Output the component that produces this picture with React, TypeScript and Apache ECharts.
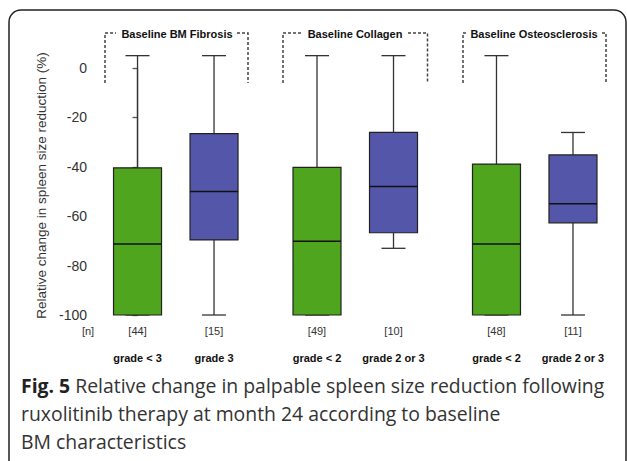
import React, { useEffect, useRef } from "react";
import * as echarts from "echarts";

// ---- data ----
const groupTitles = ["Baseline BM Fibrosis", "Baseline Collagen", "Baseline Osteosclerosis"];
const categories = ["grade < 3", "grade 3", "grade < 2", "grade 2 or 3", "grade < 2", "grade 2 or 3"];
const counts = [44, 15, 49, 10, 48, 11];
const groupOf = [0, 0, 1, 1, 2, 2];
const mins = [-100, -100, -100, -73, -100, -100];
const q1s = [-100, -69.6, -100, -66.7, -100, -62.7];
const medians = [-71.3, -50, -70.1, -48, -71.3, -55];
const q3s = [-40.4, -26.6, -40.2, -26.1, -38.9, -35.2];
const maxs = [5, 5, 5, 5, 5, -26.1];
const yTickMin = -100;
const yTickMax = 0;
const yTickStep = 20;
const captionBold = "Fig. 5";
const captionLines = [
  " Relative change in palpable spleen size reduction following",
  "ruxolitinib therapy at month 24 according to baseline",
  "BM characteristics",
];

// ---- layout constants ----
const GROUP_STEP = 2.346; // slot units between group starts
const BOX_W = 48;
const CAP_W = 24;
const COLORS = ["#4fa51d", "#5456aa"];
const ARIAL = "'Liberation Sans', Arial, Helvetica, sans-serif";
const CAPTION_FONT = "'Open Sans', sans-serif";
const CAPTION_SIZE = 19.4;

export default function App() {
  const ref = useRef<HTMLDivElement>(null);
  useEffect(() => {
    document.body.style.margin = "0";
    const chart = echarts.init(ref.current!, undefined, { renderer: "svg" });

    const data = categories.map((c, i) => {
      const within = i - groupOf.indexOf(groupOf[i]);
      const x = groupOf[i] * GROUP_STEP + within;
      return [x, mins[i], q1s[i], medians[i], q3s[i], maxs[i], within, i];
    });

    const bracket = (xl: number, tl: number, tr: number, xr: number) => [
      {
        type: "polyline",
        shape: { points: [[xl, 83], [xl, 33], [tl, 33]] },
        style: { stroke: "#444", lineWidth: 1.5, lineDash: [3, 2], fill: null },
      },
      {
        type: "polyline",
        shape: { points: [[tr, 33], [xr, 33], [xr, 83]] },
        style: { stroke: "#444", lineWidth: 1.5, lineDash: [3, 2], fill: null },
      },
    ];

    const headerText = (cx: number, t: string) => ({
      type: "text",
      x: cx,
      y: 34,
      style: {
        text: t,
        font: `bold 11px ${ARIAL}`,
        fill: "#111",
        align: "center",
        verticalAlign: "middle",
      },
    });

    chart.setOption({
      animation: false,
      grid: { left: 93, top: 68, height: 247, right: 7.5 },
      xAxis: {
        type: "value",
        min: -0.582,
        max: 6.3,
        show: false,
      },
      yAxis: {
        type: "value",
        min: yTickMin,
        max: yTickMax,
        interval: yTickStep,
        splitLine: { show: false },
        axisLine: { show: true, lineStyle: { color: "#555", width: 1.3 } },
        axisTick: { show: true, length: 5, lineStyle: { color: "#555", width: 1.3 } },
        axisLabel: { color: "#333", fontSize: 14, fontFamily: ARIAL, margin: 6 },
        name: "Relative change in spleen size reduction (%)",
        nameLocation: "middle",
        nameGap: 45,
        nameTextStyle: { color: "#333", fontSize: 13.5, fontFamily: ARIAL, padding: [0, 0, 0, 12] },
      },
      series: [
        {
          type: "custom",
          clip: false,
          data,
          renderItem: (params: any, api: any) => {
            const x = api.value(0);
            const [cx, yMin] = api.coord([x, api.value(1)]);
            const yQ1 = api.coord([x, api.value(2)])[1];
            const yMed = api.coord([x, api.value(3)])[1];
            const yQ3 = api.coord([x, api.value(4)])[1];
            const yMax = api.coord([x, api.value(5)])[1];
            const yBase = api.coord([x, yTickMin])[1];
            const within = api.value(6);
            const idx = api.value(7);
            const lineStyle = { stroke: "#333", lineWidth: 1.3 };
            return {
              type: "group",
              children: [
                { type: "line", shape: { x1: cx, y1: yQ3, x2: cx, y2: yMax }, style: lineStyle },
                { type: "line", shape: { x1: cx, y1: yQ1, x2: cx, y2: yMin }, style: lineStyle },
                { type: "line", shape: { x1: cx - CAP_W / 2, y1: yMax, x2: cx + CAP_W / 2, y2: yMax }, style: lineStyle },
                { type: "line", shape: { x1: cx - CAP_W / 2, y1: yMin, x2: cx + CAP_W / 2, y2: yMin }, style: lineStyle },
                {
                  type: "rect",
                  shape: { x: cx - BOX_W / 2, y: yQ3, width: BOX_W, height: yQ1 - yQ3 },
                  style: { fill: COLORS[within], stroke: "#222", lineWidth: 1.2 },
                },
                { type: "line", shape: { x1: cx - BOX_W / 2, y1: yMed, x2: cx + BOX_W / 2, y2: yMed }, style: { stroke: "#111", lineWidth: 1.5 } },
                {
                  type: "text",
                  x: cx,
                  y: yBase + 16,
                  style: { text: `[${counts[idx]}]`, font: `11px ${ARIAL}`, fill: "#333", align: "center", verticalAlign: "middle" },
                },
                {
                  type: "text",
                  x: cx,
                  y: yBase + 43,
                  style: { text: categories[idx], font: `bold 11px ${ARIAL}`, fill: "#111", align: "center", verticalAlign: "middle" },
                },
              ],
            };
          },
        },
      ],
      graphic: [
        {
          type: "rect",
          shape: { x: 9, y: 10, width: 617, height: 462, r: 12 },
          style: { fill: null, stroke: "#222", lineWidth: 1.5 },
        },
        {
          type: "text",
          x: 88,
          y: 331,
          style: { text: "[n]", font: `11px ${ARIAL}`, fill: "#333", align: "center", verticalAlign: "middle" },
        },
        headerText(177, groupTitles[0]),
        headerText(355, groupTitles[1]),
        headerText(534, groupTitles[2]),
        ...bracket(105, 116, 237, 248),
        ...bracket(283, 303, 408, 427.5),
        ...bracket(463, 466, 602, 606),
        {
          type: "text",
          x: 21,
          y: 385,
          style: {
            text: `{b|${captionBold}}{r|${captionLines[0]}}`,
            verticalAlign: "middle",
            rich: {
              b: { font: `bold ${CAPTION_SIZE}px ${CAPTION_FONT}`, fill: "#222" },
              r: { font: `${CAPTION_SIZE}px ${CAPTION_FONT}`, fill: "#333" },
            },
          },
        },
        {
          type: "text",
          x: 21,
          y: 413,
          style: { text: captionLines[1], font: `${CAPTION_SIZE}px ${CAPTION_FONT}`, fill: "#333", verticalAlign: "middle" },
        },
        {
          type: "text",
          x: 21,
          y: 441,
          style: { text: captionLines[2], font: `${CAPTION_SIZE}px ${CAPTION_FONT}`, fill: "#333", verticalAlign: "middle" },
        },
      ],
    });
    return () => chart.dispose();
  }, []);
  return <div ref={ref} style={{ width: 627, height: 461 }} />;
}
